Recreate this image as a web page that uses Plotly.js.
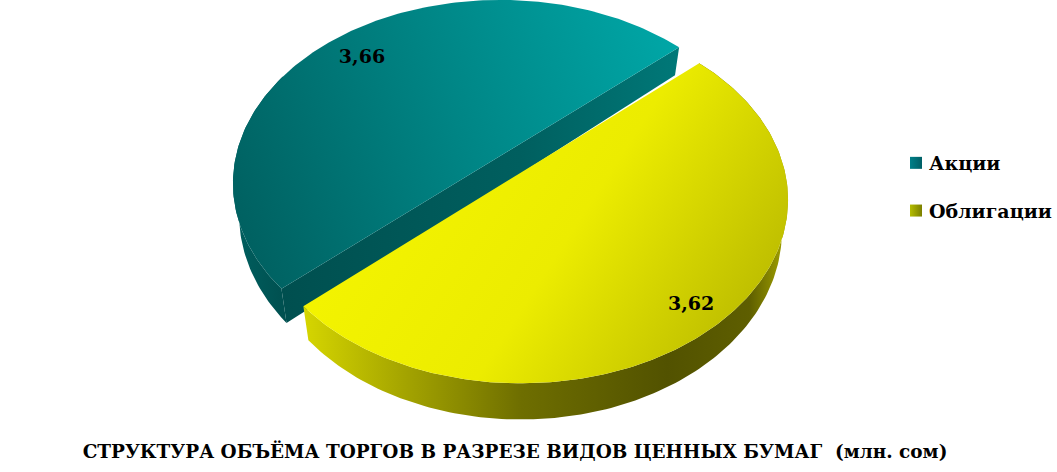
<!DOCTYPE html>
<html><head><meta charset="utf-8">
<script src="https://cdn.plot.ly/plotly-3.0.1.min.js"></script>
<style>html,body{margin:0;padding:0;background:#fff}</style></head>
<body><div id="chart" style="width:1057px;height:472px"></div>
<script>
const categories = ['Акции', 'Облигации'];
const seriesValues = [3.66, 3.62];
const valueLabels = ['3,66', '3,62'];
const chartTitle = 'СТРУКТУРА ОБЪЁМА ТОРГОВ В РАЗРЕЗЕ ВИДОВ ЦЕННЫХ БУМАГ\u00A0\u00A0(млн. сом)';
const fontFamily = '"DejaVu Serif", serif';

// projection of the tilted disc
const RX = 263.6, RY = 178.8, K = 0.16, FIRST_ANGLE = 48.7;
const teal = {dx: 500, dy: 154}, yellow = {dx: 521, dy: 170.5};
const total = seriesValues[0] + seriesValues[1];
const yellowSweep = seriesValues[1] / total * 360;
const tealSweep = seriesValues[0] / total * 360;
const yellowRange = [FIRST_ANGLE - 0.3, FIRST_ANGLE - 0.3 + yellowSweep];
const tealRange = [FIRST_ANGLE + yellowSweep, FIRST_ANGLE + yellowSweep + tealSweep];

function proj(c, deg, r, bottom) {
  const t = deg * Math.PI / 180, u = r * Math.sin(t), v = -r * Math.cos(t), w = 1 - K * v;
  let x = RX * u / w, y = RY * v / w;
  if (bottom) { x *= 0.977; y = y * 1.0253 + 30.7; }
  return [c.dx + x, c.dy + y];
}
function arc(c, a, b, bottom) {
  const pts = [], n = Math.max(2, Math.ceil(Math.abs(b - a) / 1));
  for (let i = 0; i <= n; i++) pts.push(proj(c, a + (b - a) * i / n, 1, bottom));
  return pts;
}
function poly(uid, pts, colorscale, type) {
  const closed = pts.concat([pts[0]]);
  return {uid, type: 'scatter', mode: 'lines', x: closed.map(p => p[0]), y: closed.map(p => p[1]),
    line: {width: 0}, fill: 'toself', fillgradient: {type: type || 'horizontal', colorscale},
    hoverinfo: 'skip', showlegend: false};
}

const tealTop = arc(teal, tealRange[0], tealRange[1], false);
const yellowTop = arc(yellow, yellowRange[0], yellowRange[1], false);
const tealLabel = proj(teal, tealRange[0] + tealSweep / 2 - 2.5, 0.82);
const yellowLabel = proj(yellow, yellowRange[0] + yellowSweep / 2 + 1.5, 0.885);

const traces = [
  poly('tealWall', arc(teal, tealRange[0], tealRange[0] + 70, false)
        .concat(arc(teal, tealRange[0] + 70, tealRange[0], true)),
    [[0, '#005f5f'], [1, '#004f4f']]),
  poly('tealCut', [proj(teal, tealRange[0], 1, false), proj(teal, tealRange[1], 1, false),
                   proj(teal, tealRange[1], 1, true), proj(teal, tealRange[0], 1, true)],
    [[0, '#004f4f'], [0.6, '#005f5f'], [1, '#007878']]),
  poly('tealTop', tealTop, [[0, '#006060'], [0.5, '#008585'], [1, '#00a8a8']]),
  poly('yellowWall', arc(yellow, yellowRange[0], yellowRange[1], false)
        .concat(arc(yellow, yellowRange[1], yellowRange[0], true)),
    [[0, '#d6d600'], [0.2, '#a6a600'], [0.45, '#6e6e00'], [0.75, '#525200'], [0.92, '#5e5e00'], [1, '#a8a800']]),
  poly('yellowTop', yellowTop, [[0, '#f6f600'], [0.5, '#ecec00'], [1, '#b0b000']]),
  {type: 'scatter', mode: 'text', x: [tealLabel[0], yellowLabel[0]], y: [tealLabel[1], yellowLabel[1]],
    text: valueLabels, textposition: 'middle center', cliponaxis: false,
    textfont: {family: fontFamily, size: 19, color: '#000', weight: 700}, hoverinfo: 'skip', showlegend: false},
  {type: 'scatter', mode: 'markers', x: [null], y: [null], name: categories[0], legendgroup: 'a',
    marker: {symbol: 'square', size: 12, color: '#007f88', gradient: {type: 'horizontal', color: '#005f66'}}},
  {type: 'scatter', mode: 'markers', x: [null], y: [null], name: categories[1], legendgroup: 'b',
    marker: {symbol: 'square', size: 12, color: '#b4bc00', gradient: {type: 'horizontal', color: '#7c8000'}}}
];

const layout = {
  width: 1057, height: 472, autosize: false,
  margin: {l: 0, r: 0, t: 0, b: 0},
  paper_bgcolor: '#fff', plot_bgcolor: '#fff',
  xaxis: {range: [0, 1057], visible: false, fixedrange: true},
  yaxis: {range: [472, 0], visible: false, fixedrange: true},
  title: {text: chartTitle, x: 515 / 1057, xanchor: 'center', xref: 'paper', y: 1 - 452 / 472, yanchor: 'middle', yref: 'container',
    font: {family: fontFamily, size: 18.45, color: '#000', weight: 700}},
  legend: {x: 889 / 1057, xanchor: 'left', y: 1 - 144 / 472, yanchor: 'top', bgcolor: 'rgba(0,0,0,0)',
    tracegroupgap: 20, font: {family: fontFamily, size: 19, color: '#000', weight: 700}, itemclick: false, itemdoubleclick: false},
  showlegend: true
};

Plotly.newPlot('chart', traces, layout, {displayModeBar: false, staticPlot: true}).then(gd => {
  const dirs = {yellowTop: [735, 445, 310, 170], tealTop: [690, 50, 230, 215]};
  Object.keys(dirs).forEach(id => {
    const g = gd.querySelector('linearGradient[id*="' + id + '"]');
    if (g) { const d = dirs[id]; g.setAttribute('gradientUnits', 'userSpaceOnUse');
      g.setAttribute('x1', d[0]); g.setAttribute('y1', d[1]); g.setAttribute('x2', d[2]); g.setAttribute('y2', d[3]); }
  });
  gd.querySelectorAll('.legendsymbols').forEach(s => s.setAttribute('transform', 'translate(7,0)'));
});
</script></body></html>
